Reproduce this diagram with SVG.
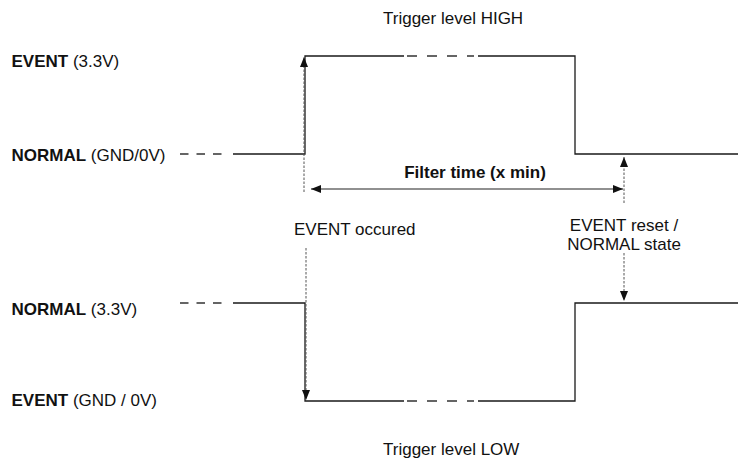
<svg xmlns="http://www.w3.org/2000/svg" width="738" height="465" viewBox="0 0 738 465">
<style>
text{font-family:"Liberation Sans",Arial,sans-serif;font-size:17px;fill:#111}
.b{font-weight:bold}
.w{fill:none;stroke:#1a1a1a;stroke-width:1.3}
.d{fill:none;stroke:#333;stroke-width:1.3;stroke-dasharray:8.5,8}
.m{fill:none;stroke:#333;stroke-width:1.3;stroke-dasharray:10,10}
.dot{fill:none;stroke:#555;stroke-width:1;stroke-dasharray:2.5,1.5}
.a{fill:none;stroke:#222;stroke-width:1.2}
</style>
<defs>
<marker id="ah" viewBox="0 0 10 8" refX="10" refY="4" markerWidth="10" markerHeight="8" markerUnits="userSpaceOnUse" orient="auto-start-reverse">
<path d="M0,0 L10,4 L0,8 z" fill="#111"/>
</marker>
</defs>
<rect width="738" height="465" fill="#fff"/>
<g id="labels">
<text x="383" y="24">Trigger level HIGH</text>
<text x="11.5" y="67"><tspan class="b">EVENT</tspan> (3.3V)</text>
<text x="11.5" y="161"><tspan class="b">NORMAL</tspan> (GND/0V)</text>
<text x="11.5" y="315"><tspan class="b">NORMAL</tspan> (3.3V)</text>
<text x="11.5" y="406"><tspan class="b">EVENT</tspan> (GND / 0V)</text>
<text x="383" y="455">Trigger level LOW</text>
</g>
<g id="signal-high">
<path class="d" d="M180,154 H223"/>
<path class="w" d="M233,154 H305 V56 H404"/>
<path class="m" d="M407,56 H474"/>
<path class="w" d="M478,56 H575 V154 H738"/>
</g>
<g id="signal-low">
<path class="d" d="M180,303 H223"/>
<path class="w" d="M233,303 H305 V401 H404"/>
<path class="m" d="M407,401 H474"/>
<path class="w" d="M478,401 H575 V303 H738"/>
</g>
<g id="event-occured">
<path class="dot" d="M304,192 V57" marker-end="url(#ah)"/>
<path class="dot" d="M306,248 V400" marker-end="url(#ah)"/>
<text x="294" y="235">EVENT occured</text>
</g>
<g id="filter-time">
<path class="a" d="M311,189 H623" marker-start="url(#ah)" marker-end="url(#ah)"/>
<text class="b" x="475" y="178" text-anchor="middle">Filter time (x min)</text>
</g>
<g id="event-reset">
<path class="dot" d="M624,203 V157" marker-end="url(#ah)"/>
<path class="dot" d="M624,253 V301" marker-end="url(#ah)"/>
<text x="624" y="231" text-anchor="middle">EVENT reset /</text>
<text x="624" y="250" text-anchor="middle">NORMAL state</text>
</g>
</svg>
